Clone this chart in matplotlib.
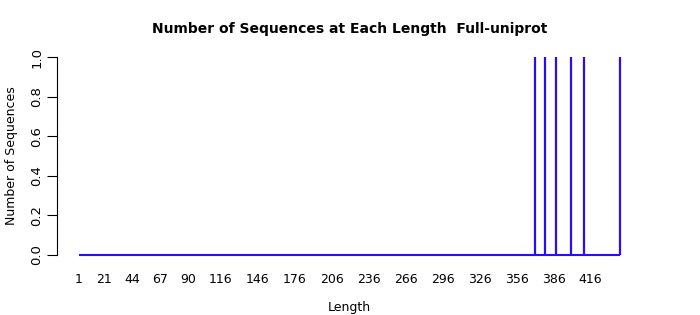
import numpy as np
import matplotlib
matplotlib.use("Agg")
import matplotlib.pyplot as plt

# Data
max_length = 440
seq_lengths = [371, 379, 388, 400, 411, 440]
seq_counts = [1, 1, 1, 1, 1, 1]
tick_values = [1, 21, 44, 67, 90, 116, 146, 176, 206, 236, 266, 296, 326, 356, 386, 416]
y_ticks = [0.0, 0.2, 0.4, 0.6, 0.8, 1.0]

all_lengths = np.arange(1, max_length + 1)
all_counts = np.zeros(max_length)
for L, c in zip(seq_lengths, seq_counts):
    all_counts[L - 1] = c

fig = plt.figure(figsize=(7, 3.15), dpi=100)
ax = fig.add_axes([57 / 700, 0.1654, 585 / 700, 0.6787])

color = "#2a0cf5"
ax.plot([all_lengths[0], all_lengths[-1]], [0, 0], color=color, lw=1.5, solid_capstyle="butt")
nz = all_counts > 0
ax.vlines(all_lengths[nz], 0, all_counts[nz], color=color, lw=1.6)

ax.set_xlim(-16.8, 457.8)
ax.set_ylim(-0.04, 1.04)

for s in ["top", "right", "bottom"]:
    ax.spines[s].set_visible(False)
ax.spines["left"].set_bounds(0, 1)
ax.spines["left"].set_linewidth(0.8)

ax.set_yticks(y_ticks)
ax.set_yticklabels([f"{v:.1f}" for v in y_ticks], rotation=90, va="center", fontsize=9.5)
ax.tick_params(axis="y", length=7, width=0.8, pad=3)

ax.set_xticks(tick_values)
ax.set_xticklabels([str(v) for v in tick_values], fontsize=9)
ax.tick_params(axis="x", length=0, pad=7)

ax.set_xlabel("Length", fontsize=9, labelpad=11)
ax.set_ylabel("Number of Sequences", fontsize=9, labelpad=9)
fig.text(350 / 700, 1 - 29 / 315, "Number of Sequences at Each Length  Full-uniprot",
         ha="center", va="center", fontsize=10, fontweight="bold")

fig.savefig("out.png", dpi=100)
